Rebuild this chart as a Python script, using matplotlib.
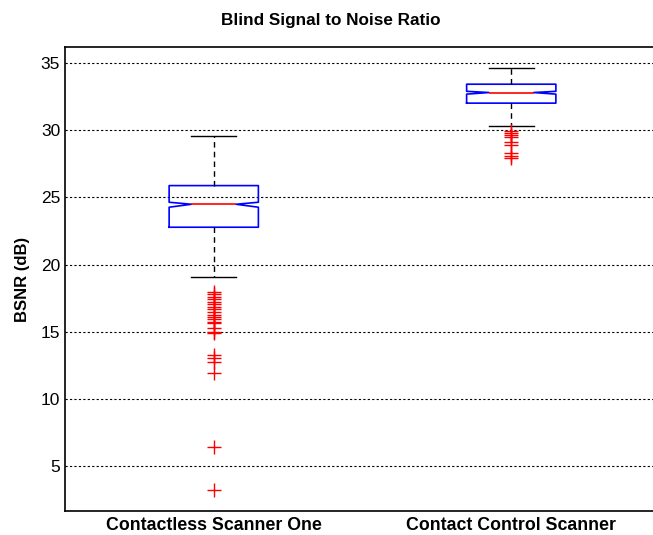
import matplotlib
matplotlib.use("Agg")
import matplotlib.pyplot as plt

plt.rcParams['font.family'] = ['Liberation Sans', 'DejaVu Sans']

categories = ["Contactless Scanner One", "Contact Control Scanner"]
medians = [24.49, 32.81]
q1 = [22.78, 32.02]
q3 = [25.88, 33.43]
whisk_lo = [19.08, 30.35]
whisk_hi = [29.58, 34.67]
notch_lo = [24.27, 32.69]
notch_hi = [24.64, 32.90]
outliers_1 = [17.98, 17.81, 17.61, 17.41, 17.24, 17.06, 16.86, 16.67, 16.47,
              16.24, 16.07, 15.92, 15.74, 15.62, 15.25, 14.99, 14.87,
              13.26, 13.01, 12.72, 11.90, 6.43, 3.20]
outliers_2 = [29.98, 29.83, 29.66, 29.49, 29.09, 28.94, 28.27, 28.12, 27.95]
yticks = [5, 10, 15, 20, 25, 30, 35]

fig = plt.figure(figsize=(6.53, 5.35), dpi=100)
ax = fig.add_axes([65/653, 24/535, 595/653, 464/535])

stats = []
for i, outs in enumerate([outliers_1, outliers_2]):
    stats.append(dict(med=medians[i], q1=q1[i], q3=q3[i],
                      whislo=whisk_lo[i], whishi=whisk_hi[i],
                      cilo=notch_lo[i], cihi=notch_hi[i],
                      fliers=outs, label=categories[i]))

ax.bxp(stats, positions=[1, 2], widths=0.3, shownotches=True,
       boxprops=dict(color='blue', linewidth=1.2),
       medianprops=dict(color='red', linewidth=1.2),
       whiskerprops=dict(color='black', linestyle=(0, (4, 3)), linewidth=1.0),
       capprops=dict(color='black', linewidth=1.0),
       flierprops=dict(marker='+', markeredgecolor='red', markersize=10,
                       markeredgewidth=1.0, linestyle='none'))

ax.set_xlim(0.5, 2.5)
ax.set_ylim(1.65, 36.2)
ax.set_yticks(yticks)
ax.set_xticks([1, 2])
ax.set_xticklabels(categories, fontsize=12.8, fontweight='bold')
ax.tick_params(axis='y', labelsize=12.5, length=0, pad=3.5)
ax.tick_params(axis='x', length=0, pad=4.5)
ax.yaxis.grid(True, color='black', linestyle=(0, (2, 2)), linewidth=0.8)
ax.set_axisbelow(True)
for s in ax.spines.values():
    s.set_linewidth(1.2)
ax.set_ylabel("BSNR (dB)", fontsize=12, fontweight='bold', labelpad=8)
fig.text(331/653, 1 - 21/535, "Blind Signal to Noise Ratio", fontsize=12.3,
         fontweight='bold', ha='center', va='center')

fig.savefig("out.png", dpi=100)
